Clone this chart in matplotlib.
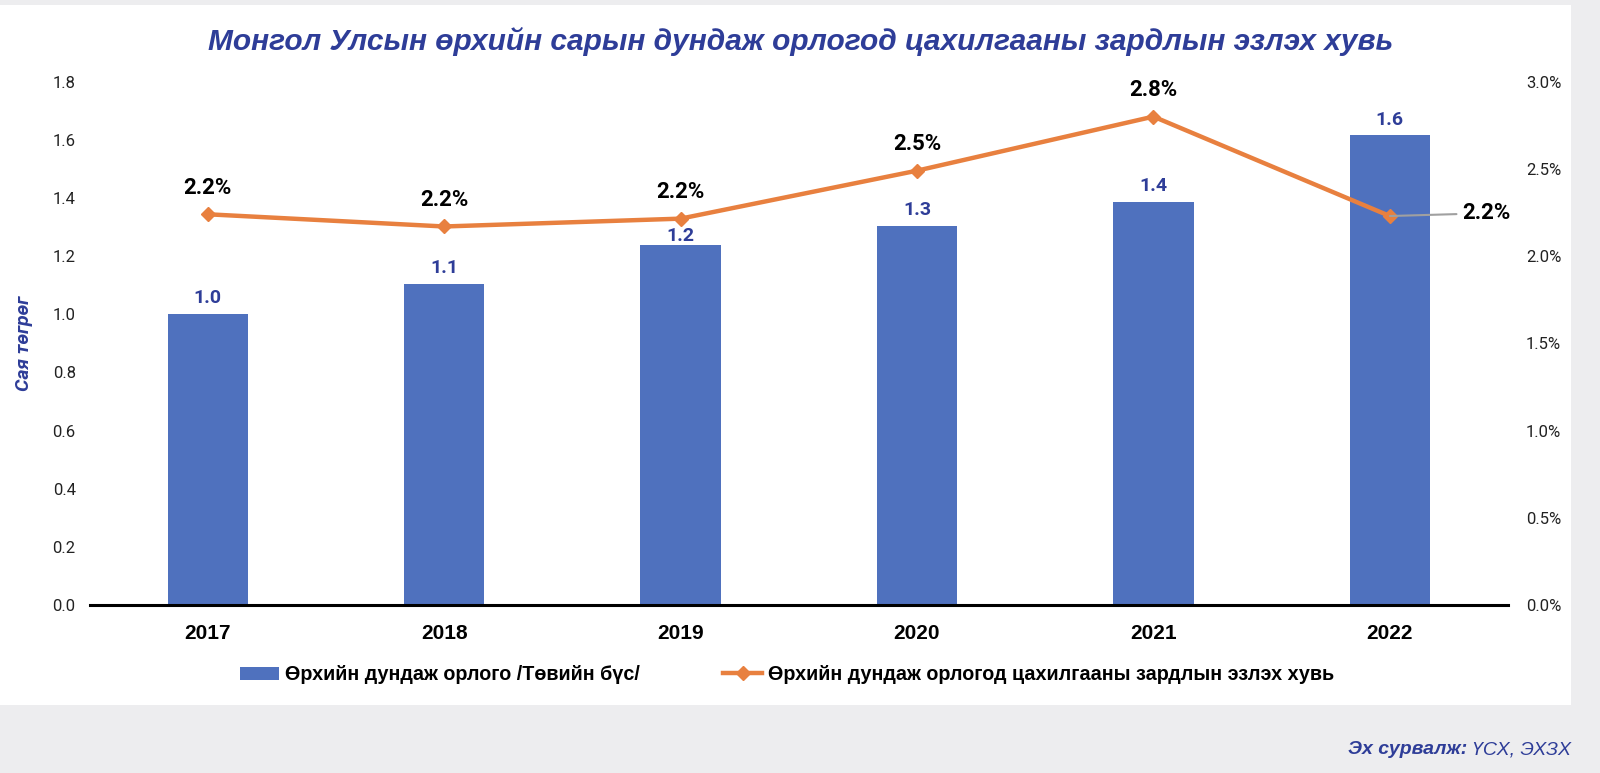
import matplotlib.pyplot as plt
from matplotlib import font_manager
from matplotlib.patches import Rectangle
from matplotlib.lines import Line2D
from matplotlib.patches import Patch
import numpy as np

# --- data ---
years = ["2017", "2018", "2019", "2020", "2021", "2022"]
income = [1.0, 1.105, 1.24, 1.305, 1.385, 1.615]          # сая төгрөг
share = [2.24, 2.17, 2.215, 2.49, 2.80, 2.23]              # %
income_labels = ["1.0", "1.1", "1.2", "1.3", "1.4", "1.6"]
share_labels = ["2.2%", "2.2%", "2.2%", "2.5%", "2.8%", "2.2%"]

blue = "#4F71BE"
orange = "#E8803F"
navy = "#2E3D98"

names = {f.name for f in font_manager.fontManager.ttflist}
narrow = "Liberation Sans Narrow" if "Liberation Sans Narrow" in names else "Liberation Sans"
plt.rcParams['font.family'] = ["Roboto", "DejaVu Sans"]

fig = plt.figure(figsize=(16, 7.73), dpi=100, facecolor="#EDEDEF")
fig.patches.append(Rectangle((0, 0.088), 0.982, 0.905, transform=fig.transFigure,
                             facecolor="white", edgecolor="none", zorder=-10))

ax = fig.add_axes([0.056, 0.2173, 0.8865, 0.677])
ax.set_facecolor("none")
x = np.arange(len(years))

ax.bar(x, income, width=0.34, color=blue, zorder=2)
ax.set_xlim(-0.5, len(years) - 0.5)
ax.set_ylim(0, 1.8)
ax.set_yticks(np.arange(0, 1.81, 0.2))
ax.set_yticklabels([f"{v:.1f}" for v in np.arange(0, 1.81, 0.2)], fontsize=12, color="#222222")
ax.set_xticks(x)
ax.set_xticklabels(years, fontsize=15, fontweight="bold", family=narrow)
ax.tick_params(axis="both", length=0, pad=14)
ax.tick_params(axis="y", pad=10)
for s in ["top", "right", "left"]:
    ax.spines[s].set_visible(False)
ax.spines["bottom"].set_linewidth(2.2)
ax.spines["bottom"].set_color("black")

for i, (xi, v, lab) in enumerate(zip(x, income, income_labels)):
    # the 2019 label sits tight on the bar so the line does not cross it
    dy = -0.5 if i == 2 else 5
    ax.annotate(lab, (xi, v), xytext=(0, dy), textcoords="offset points",
                ha="center", va="bottom", fontsize=14, fontweight="bold", color=navy)

ax2 = ax.twinx()
ax2.plot(x, share, color=orange, lw=3.2, marker="D", ms=7, zorder=3)
ax2.set_ylim(0, 3.0)
ax2.set_yticks(np.arange(0, 3.01, 0.5))
ax2.set_yticklabels([f"{v:.1f}%" for v in np.arange(0, 3.01, 0.5)], fontsize=12, color="#222222")
ax2.tick_params(axis="y", length=0, pad=13)
for s in ["top", "right", "left", "bottom"]:
    ax2.spines[s].set_visible(False)

for i, (xi, v, lab) in enumerate(zip(x, share, share_labels)):
    if i == len(share) - 1:
        ax2.annotate(lab, (xi, v), xytext=(52, 2), textcoords="offset points",
                     ha="left", va="center", fontsize=16, fontweight="bold", color="black",
                     arrowprops=dict(arrowstyle="-", color="#A0A0A0", lw=1.5,
                                     shrinkA=2, shrinkB=0))
    else:
        ax2.annotate(lab, (xi, v), xytext=(0, 11), textcoords="offset points",
                     ha="center", va="bottom", fontsize=16, fontweight="bold", color="black")

ax.set_ylabel("Сая төгрөг", fontsize=14, fontweight="bold", style="italic",
              color=navy, labelpad=14)

fig.text(0.5005, 0.946, "Монгол Улсын өрхийн сарын дундаж орлогод цахилгааны зардлын эзлэх хувь",
         ha="center", va="center", fontsize=21.5, fontweight="bold", style="italic",
         color=navy, family=narrow)

handles = [Patch(facecolor=blue, edgecolor="none"),
           Line2D([0], [0], color=orange, lw=3.2, marker="D", ms=7)]
fig.legend(handles, ["Өрхийн дундаж орлого /Төвийн бүс/",
                     "Өрхийн дундаж орлогод цахилгааны зардлын эзлэх хувь"],
           loc="center", bbox_to_anchor=(0.492, 0.127), ncol=2, frameon=False,
           prop=dict(family=narrow, size=14.2, weight="bold"), handlelength=2.0,
           handletextpad=0.3, columnspacing=4.2)

fig.text(0.917, 0.030, "Эх сурвалж:", ha="right", va="center", fontsize=14,
         fontweight="bold", style="italic", color=navy, family="Liberation Sans")
fig.text(0.982, 0.030, "ҮСХ, ЭХЗХ", ha="right", va="center", fontsize=14,
         style="italic", color=navy, family="Liberation Sans")

fig.savefig("out.png", dpi=100, facecolor=fig.get_facecolor())
